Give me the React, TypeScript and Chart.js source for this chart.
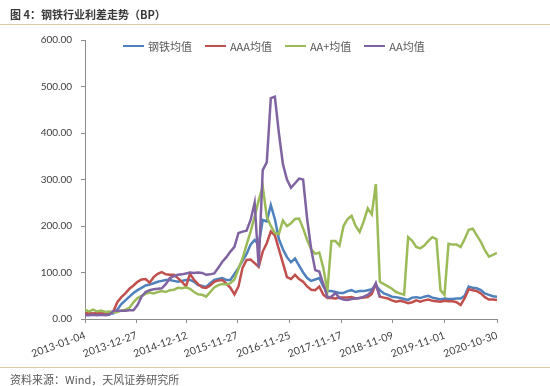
import React, { useEffect, useRef } from "react";
import { Chart, registerables } from "chart.js";

Chart.register(...registerables);

// week index (0 = 2013-01-04), sampled every 4 weeks
const weeks = Array.from({ length: 103 }, (_, i) => i * 4);

const tickWeeks = [0, 51, 101, 151, 203, 254, 305, 356, 408];
const tickLabels = [
  "2013-01-04",
  "2013-12-27",
  "2014-12-12",
  "2015-11-27",
  "2016-11-25",
  "2017-11-17",
  "2018-11-09",
  "2019-11-01",
  "2020-10-30",
];

const seriesNames = ["钢铁均值", "AAA均值", "AA+均值", "AA均值"];
const seriesColors = ["#4F81BD", "#C0504D", "#9BBB59", "#8064A2"];

const steelAvg = [
  10, 10, 11, 10, 11, 11, 12, 12,
  20, 32, 40, 48, 56, 62, 67, 72,
  74, 77, 80, 82, 84, 84, 82, 80,
  82, 84, 84, 80, 73, 71, 69, 77,
  84, 86, 88, 84, 84, 97, 110, 125,
  140, 160, 170, 160, 213, 210, 245, 215,
  172, 150, 133, 122, 130, 115, 100, 88,
  82, 85, 88, 70, 60, 60, 58, 56,
  56, 60, 62, 58, 60, 60, 62, 64,
  72, 62, 55, 52, 48, 47, 45, 43,
  41, 46, 47, 45, 48, 50, 46, 44,
  42, 44, 43, 43, 44, 44, 50, 70,
  67, 66, 62, 55, 52, 49, 48,
];

const aaaAvg = [
  12, 13, 12, 13, 12, 14, 14, 16,
  36, 47, 55, 65, 72, 80, 85, 86,
  78, 90, 97, 101, 96, 95, 95, 88,
  80, 70, 97, 84, 75, 68, 67, 72,
  80, 83, 84, 76, 67, 53, 70, 110,
  127, 128, 120, 112, 145, 163, 188, 180,
  150, 120, 90, 86, 95, 86, 80, 70,
  63, 62, 70, 52, 45, 45, 44, 46,
  46, 46, 47, 44, 45, 46, 47, 54,
  75, 48, 46, 44, 40, 37, 39, 37,
  34, 36, 40, 37, 40, 42, 39, 38,
  37, 39, 38, 38, 36, 30, 45, 64,
  62, 60, 55, 47, 42, 42, 41,
];

const aaPlusAvg = [
  20, 16, 20, 16, 18, 15, 16, 14,
  15, 18, 20, 24, 36, 45, 50, 54,
  57, 55, 58, 60, 58, 62, 63, 67,
  66, 68, 65, 58, 53, 52, 48, 58,
  68, 73, 75, 74, 77, 85, 108, 130,
  160, 188, 220, 255, 285, 220, 200, 185,
  183, 212, 200, 206, 215, 216, 195, 170,
  150, 140, 143, 110, 60, 168, 168, 158,
  200, 215, 222, 200, 187, 210, 238, 225,
  290, 80, 75, 70, 65, 58, 55, 52,
  176, 168, 155, 152, 158, 168, 176, 172,
  62, 52, 162, 160, 160, 155, 172, 192,
  194, 180, 166, 148, 134, 138, 142,
];

// AA series ends in 2018
const aaAvg = [
  8, 8, 9, 8, 9, 8, 9, 17,
  18, 18, 18, 19, 19, 30, 48, 58,
  62, 64, 65, 66, 75, 88, 92, 95,
  96, 98, 100, 99, 100, 99, 95, 96,
  98, 110, 123, 133, 145, 155, 185, 188,
  190, 213, 250, 112, 320, 337, 475, 478,
  400, 333, 300, 282, 292, 302, 300, 215,
  150, 105, 102, 75, 47, 48, 56, 45,
  42, 41, 43, 44, 45, 48, 52, 60,
  77, 47,
];

const seriesValues = [steelAvg, aaaAvg, aaPlusAvg, aaAvg];

const axisColor = "#8c8c8c";
const textColor = "#404040";

export default function App() {
  const ref = useRef<HTMLCanvasElement>(null);

  useEffect(() => {
    const chart = new Chart(ref.current as HTMLCanvasElement, {
      type: "line",
      data: {
        datasets: seriesValues.map((vals, si) => ({
          label: seriesNames[si],
          data: vals.map((v, i) => ({ x: weeks[i], y: v })),
          borderColor: seriesColors[si],
          backgroundColor: seriesColors[si],
          borderWidth: 2.5,
          pointRadius: 0,
          pointHoverRadius: 0,
          tension: 0,
          fill: false,
          order: 3 - si,
        })),
      },
      options: {
        responsive: false,
        animation: false,
        devicePixelRatio: 1,
        layout: { padding: { top: 40, right: 53, left: 0, bottom: 0 } },
        plugins: {
          legend: { display: false },
          tooltip: { enabled: false },
        },
        scales: {
          x: {
            type: "linear",
            min: 0,
            max: 408,
            afterBuildTicks: (s: any) => {
              s.ticks = tickWeeks.map((v) => ({ value: v }));
            },
            afterFit: (s: any) => {
              s.height = 67;
            },
            ticks: {
              autoSkip: false,
              minRotation: 20,
              maxRotation: 20,
              padding: 6,
              font: { family: "Lato", size: 10.5 },
              color: textColor,
              callback: (v: any) => {
                const idx = tickWeeks.indexOf(Number(v));
                return idx >= 0 ? tickLabels[idx] : "";
              },
            },
            grid: {
              drawOnChartArea: false,
              drawTicks: true,
              tickLength: 4,
              color: axisColor,
            },
            border: { color: axisColor, width: 1 },
          },
          y: {
            min: 0,
            max: 600,
            afterFit: (s: any) => {
              s.width = 85;
            },
            ticks: {
              stepSize: 100,
              padding: 9,
              font: { family: "Lato", size: 10 },
              color: textColor,
              callback: (v: any) => Number(v).toFixed(2),
            },
            grid: {
              drawOnChartArea: false,
              drawTicks: true,
              tickLength: 4,
              color: axisColor,
            },
            border: { color: axisColor, width: 1 },
          },
        },
      },
    });
    return () => chart.destroy();
  }, []);

  const cjk = '"Noto Sans CJK SC", "Noto Sans", sans-serif';

  return (
    <div
      style={{
        position: "absolute",
        left: 0,
        top: 0,
        width: 550,
        height: 386,
        background: "#ffffff",
        overflow: "hidden",
      }}
    >
      <canvas
        ref={ref}
        width={550}
        height={386}
        style={{ position: "absolute", left: 0, top: 0, width: 550, height: 386 }}
      />
      <div
        style={{
          position: "absolute",
          left: 10,
          top: 5,
          fontFamily: cjk,
          fontSize: 11,
          fontWeight: 700,
          color: "#3a3a3a",
          lineHeight: "18px",
          whiteSpace: "nowrap",
        }}
      >
        图 4：钢铁行业利差走势（BP）
      </div>
      <div
        style={{
          position: "absolute",
          left: 0,
          top: 24,
          width: 550,
          height: 1,
          background: "#d9cba3",
        }}
      />
      <div
        style={{
          position: "absolute",
          left: 123,
          top: 38,
          height: 16,
          display: "flex",
          alignItems: "center",
          fontFamily: cjk,
          fontSize: 11,
          color: "#595959",
          whiteSpace: "nowrap",
        }}
      >
        {seriesNames.map((name, i) => (
          <div key={name} style={{ display: "flex", alignItems: "center", marginRight: 13 }}>
            <div style={{ width: 21, height: 2.5, background: seriesColors[i], marginRight: 4 }} />
            <span>{name}</span>
          </div>
        ))}
      </div>
      <div
        style={{
          position: "absolute",
          left: 0,
          top: 367,
          width: 550,
          height: 1,
          background: "#d9cba3",
        }}
      />
      <div
        style={{
          position: "absolute",
          left: 10,
          top: 371,
          fontFamily: cjk,
          fontSize: 11,
          color: "#595959",
          lineHeight: "16px",
          whiteSpace: "nowrap",
        }}
      >
        资料来源：Wind，天风证券研究所
      </div>
    </div>
  );
}
